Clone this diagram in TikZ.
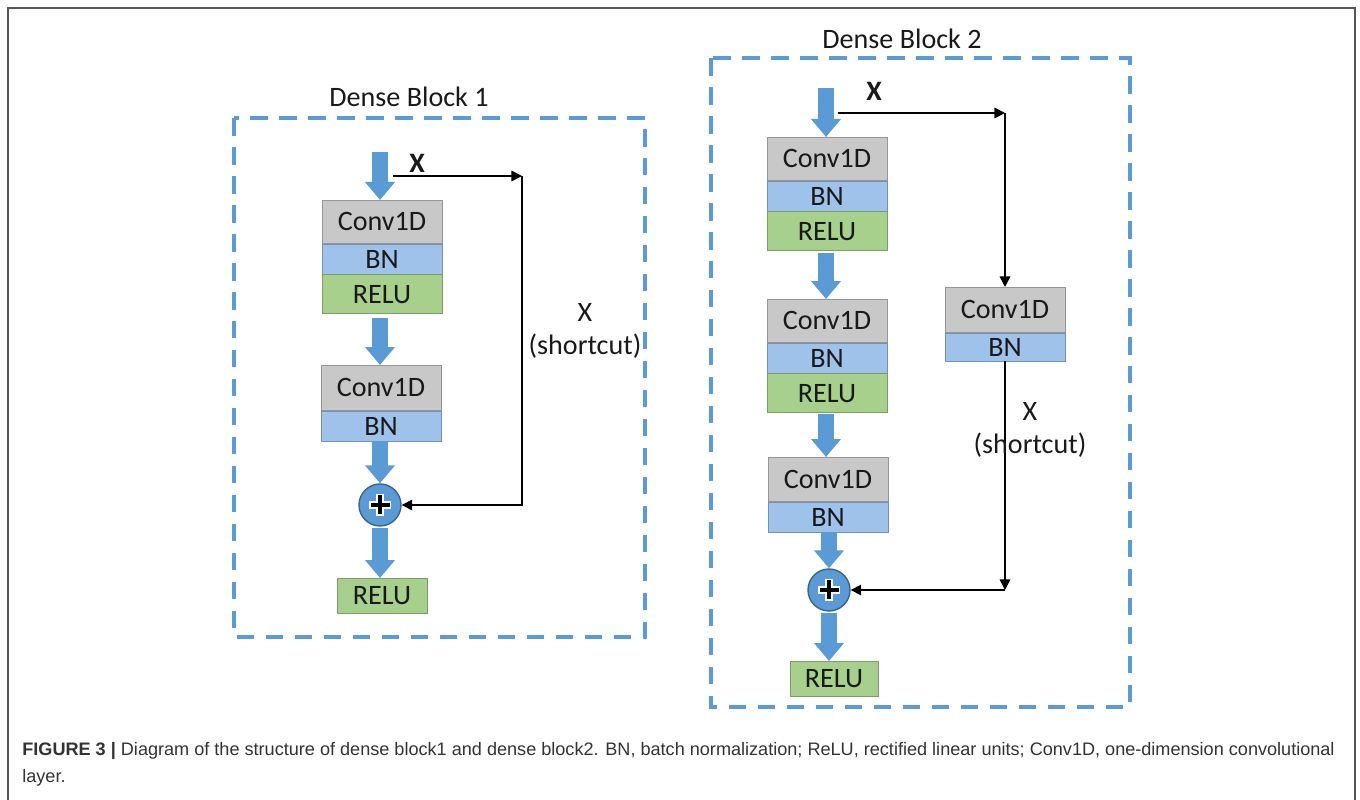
\documentclass[tikz,border=0pt]{standalone}
\usepackage{fontspec}
\setmainfont{Carlito}
\newfontfamily\capfont{Liberation Sans}
\usetikzlibrary{arrows.meta,positioning}

\definecolor{convgray}{RGB}{200,200,200}
\definecolor{bnblue}{RGB}{158,194,233}
\definecolor{relugreen}{RGB}{167,208,140}
\definecolor{flowblue}{RGB}{91,155,213}
\definecolor{framegray}{RGB}{85,85,85}

\tikzset{
	layer/.style={draw=#1!75!black, fill=#1, minimum width=2.4cm, inner sep=0pt, text=black!90, font=\fontsize{16}{19}\selectfont},
	convbox/.style={layer=convgray, minimum height=0.86cm},
	bnbox/.style={layer=bnblue, minimum height=0.6cm},
	relubox/.style={layer=relugreen, minimum height=0.78cm},
	flow/.style={flowblue, line width=0.32cm, -{Triangle[width=0.58cm,length=0.36cm]}},
	sumnode/.style={circle, draw=flowblue!65!black, fill=flowblue, minimum size=0.84cm, inner sep=0pt, line width=0.8pt},
	short/.style={black, line width=0.9pt, -{Triangle[length=6pt,width=6pt]}},
	blockframe/.style={draw=flowblue, line width=2.2pt, dash pattern=on 10pt off 6.5pt},
	txt/.style={text=black!90, font=\fontsize{16}{19}\selectfont}
}

\begin{document}
\begin{tikzpicture}[x=0.02cm,y=-0.02cm]
	\useasboundingbox (0,0) rectangle (1360,800);
	\draw[framegray, line width=1pt] (8,800) -- (8,8) -- (1355,8) -- (1355,800);

	% dense block 1
	\draw[blockframe] (234,118) rectangle (645,637);
	\node[txt] (t1) at (409,97) {Dense Block 1};

	\coordinate (in1) at (380,152);
	\node[convbox, anchor=north] (c11) at (382,200) {Conv1D};
	\node[bnbox, below=0pt of c11] (b11) {BN};
	\node[relubox, below=0pt of b11] (r11) {RELU};
	\node[convbox, anchor=north, minimum height=0.9cm] (c12) at (381,365) {Conv1D};
	\node[bnbox, below=0pt of c12] (b12) {BN};
	\node[sumnode] (s1) at (380,505) {};
	\node[relubox, anchor=north, minimum width=1.8cm, minimum height=0.7cm] (o1) at (382,578) {RELU};

	\draw[flow] (in1) -- (c11.north -| in1);
	\draw[flow] (r11.south -| in1) ++(0,4) -- (c12.north -| in1);
	\draw[flow] (b12.south -| s1) -- (s1.north);
	\draw[flow] (s1.south) ++(0,1) -- (o1.north -| s1);

	\draw[white, line width=4.4pt] (s1.center) +(-11,0) -- +(11,0) (s1.center) +(0,-11) -- +(0,11);
	\draw[black, line width=2.4pt] (s1.center) +(-9.5,0) -- +(9.5,0) (s1.center) +(0,-9.5) -- +(0,9.5);

	\coordinate (xs1) at (393,176);
	\coordinate (k1) at (522,176);
	\node[txt, font=\fontsize{16}{19}\selectfont\bfseries] (x1) at (417,163) {X};
	\draw[short] (xs1) -- (k1);
	\draw[short] (k1) |- (s1);
	\node[txt, align=center] (sc1) at (585,331) {X\\(shortcut)};

	% dense block 2
	\draw[blockframe] (711,58) rectangle (1130,707);
	\node[txt] (t2) at (902,39) {Dense Block 2};

	\coordinate (in2) at (826,88);
	\node[convbox, anchor=north] (c21) at (827,137) {Conv1D};
	\node[bnbox, below=0pt of c21] (b21) {BN};
	\node[relubox, below=0pt of b21] (r21) {RELU};
	\node[convbox, anchor=north] (c22) at (827,299) {Conv1D};
	\node[bnbox, below=0pt of c22] (b22) {BN};
	\node[relubox, below=0pt of b22] (r22) {RELU};
	\node[convbox, anchor=north, minimum height=0.88cm] (c23) at (828,457) {Conv1D};
	\node[bnbox, below=0pt of c23] (b23) {BN};
	\node[sumnode] (s2) at (829,590) {};
	\node[relubox, anchor=north, minimum width=1.76cm, minimum height=0.7cm] (o2) at (834,661) {RELU};

	\draw[flow] (in2) -- (c21.north -| in2);
	\draw[flow] (r21.south -| in2) ++(0,2) -- (c22.north -| in2);
	\draw[flow] (r22.south -| in2) ++(0,1) -- (c23.north -| in2);
	\draw[flow] (b23.south -| s2) -- (s2.north);
	\draw[flow] (s2.south) ++(0,1) -- (o2.north -| s2);

	\draw[white, line width=4.4pt] (s2.center) +(-11,0) -- +(11,0) (s2.center) +(0,-11) -- +(0,11);
	\draw[black, line width=2.4pt] (s2.center) +(-9.5,0) -- +(9.5,0) (s2.center) +(0,-9.5) -- +(0,9.5);

	\node[convbox, anchor=north, minimum height=0.9cm] (c2s) at (1005,287) {Conv1D};
	\node[bnbox, below=0pt of c2s, minimum height=0.56cm] (b2s) {BN};

	\coordinate (xs2) at (838,113);
	\coordinate (k2) at (1005,113);
	\coordinate (k3) at (1005,590);
	\node[txt, font=\fontsize{16}{19}\selectfont\bfseries] (x2) at (874,91) {X};
	\draw[short] (xs2) -- (k2);
	\draw[short] (k2) -- (c2s.north);
	\draw[short] (b2s.south) -- (k3);
	\draw[short] (k3) -- (s2);
	\node[txt, align=center] (sc2) at (1030,430) {X\\(shortcut)};

	% caption
	\node[anchor=north west, align=left, inner sep=0pt, text=black!80, font=\capfont\fontsize{10.3}{15.3}\selectfont] (cap) at (22,742)
		{\textbf{FIGURE 3 |} Diagram of the structure of dense block1 and dense block2. BN, batch normalization; ReLU, rectified linear units; Conv1D, one-dimension convolutional\\layer.};

\end{tikzpicture}
\end{document}
